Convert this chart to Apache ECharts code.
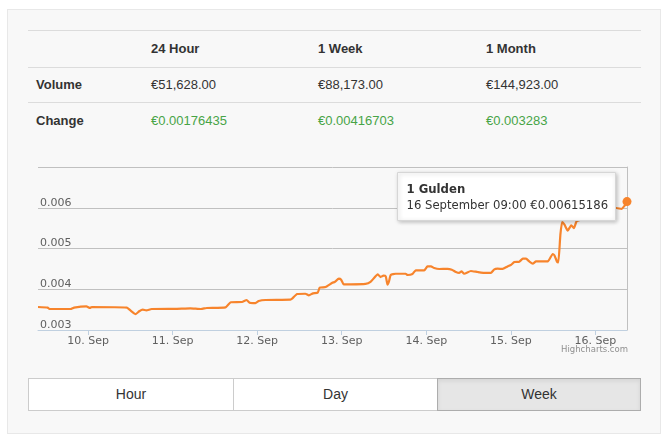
<!DOCTYPE html>
<html><head><meta charset="utf-8">
<script src="https://cdn.jsdelivr.net/npm/echarts@6/dist/echarts.min.js"></script>
<style>
html,body{margin:0;padding:0;background:#fff;width:668px;height:440px;overflow:hidden;font-family:"Liberation Sans",Arial,Helvetica,sans-serif;color:#333;}
#panel{position:absolute;left:7px;top:9px;width:654px;height:425px;background:#f8f8f8;border:1px solid #e8e8e8;box-sizing:border-box;}
#chart{position:absolute;left:0;top:0;width:668px;height:440px;}
.hl{position:absolute;left:28px;width:613px;height:1px;background:#dcdcdc;}
.t{position:absolute;font-size:13px;line-height:16px;white-space:nowrap;color:#333;}
.b{font-weight:bold;}
.g{color:#47a447;}
.btn{position:absolute;top:378px;height:33px;box-sizing:border-box;border:1px solid #cccccc;background:#fff;font-size:14px;line-height:31px;text-align:center;color:#333;}
.btn.active{background:#e6e6e6;border-color:#adadad;box-shadow:inset 0 2px 4px rgba(0,0,0,0.08);}
</style>
</head><body>
<div id="panel"></div>
<div id="table"></div>
<div id="buttons"></div>
<div id="chart"></div>
<script>
// ---- table data ----
const periods = ['24 Hour', '1 Week', '1 Month'];
const volumes = ['€51,628.00', '€88,173.00', '€144,923.00'];
const changes = ['€0.00176435', '€0.00416703', '€0.003283'];
const rowLabels = ['Volume', 'Change'];
const buttonLabels = ['Hour', 'Day', 'Week'];
const activeButton = 'Week';

// ---- chart data ----
const seriesName = '1 Gulden';
const times = [
 '2015-09-09 09:45','2015-09-09 12:30','2015-09-09 13:00','2015-09-09 19:00','2015-09-09 20:00','2015-09-09 23:30',
 '2015-09-10 00:30','2015-09-10 01:00','2015-09-10 11:00','2015-09-10 12:00','2015-09-10 13:30','2015-09-10 14:30',
 '2015-09-10 15:30','2015-09-10 16:30','2015-09-10 18:00','2015-09-11 01:00','2015-09-11 05:00','2015-09-11 08:00',
 '2015-09-11 09:40','2015-09-11 15:00','2015-09-11 16:30','2015-09-11 19:40','2015-09-11 21:00','2015-09-11 21:50',
 '2015-09-11 23:30','2015-09-12 00:25','2015-09-12 02:20','2015-09-12 09:25','2015-09-12 10:00','2015-09-12 11:20',
 '2015-09-12 13:40','2015-09-12 14:40','2015-09-12 15:50','2015-09-12 17:10','2015-09-12 17:45','2015-09-12 19:25',
 '2015-09-12 21:20','2015-09-12 22:00','2015-09-12 23:10','2015-09-12 23:50','2015-09-13 00:35','2015-09-13 02:30',
 '2015-09-13 06:45','2015-09-13 08:10','2015-09-13 10:15','2015-09-13 11:00','2015-09-13 11:50','2015-09-13 12:30',
 '2015-09-13 13:00','2015-09-13 13:25','2015-09-13 13:55','2015-09-13 15:20','2015-09-13 18:10','2015-09-13 18:40',
 '2015-09-13 20:05','2015-09-13 21:00','2015-09-13 23:25','2015-09-14 00:20','2015-09-14 01:20','2015-09-14 02:15',
 '2015-09-14 03:40','2015-09-14 06:00','2015-09-14 07:15','2015-09-14 08:25','2015-09-14 09:20','2015-09-14 10:00',
 '2015-09-14 10:45','2015-09-14 12:40','2015-09-14 14:35','2015-09-14 16:55','2015-09-14 18:20','2015-09-14 19:20',
 '2015-09-14 20:15','2015-09-14 21:40','2015-09-14 23:05','2015-09-15 00:05','2015-09-15 01:00','2015-09-15 02:25',
 '2015-09-15 03:25','2015-09-15 04:20','2015-09-15 05:15','2015-09-15 06:15','2015-09-15 07:10','2015-09-15 10:30',
 '2015-09-15 11:55','2015-09-15 12:25','2015-09-15 13:10','2015-09-15 13:30','2015-09-15 14:05','2015-09-15 14:35',
 '2015-09-15 15:15','2015-09-15 16:10','2015-09-15 17:10','2015-09-15 17:55','2015-09-15 18:35','2015-09-15 19:00',
 '2015-09-15 22:50','2015-09-16 03:05','2015-09-16 06:00','2015-09-16 07:25','2015-09-16 08:20','2015-09-16 09:00'
];
const values = [
 0.003565,0.00355,0.003515,0.003515,0.00355,0.00358,
 0.00354,0.003565,0.00355,0.00348,0.00339,0.00346,
 0.0035,0.00348,0.003515,0.00352,0.00353,0.003515,
 0.00354,0.003555,0.00368,0.003687,0.003736,0.00367,
 0.00366,0.00371,0.003736,0.003744,0.003775,0.003883,
 0.00389,0.00385,0.0039,0.003915,0.004038,0.004055,
 0.00416,0.004178,0.004259,0.004234,0.00412,0.00412,
 0.00413,0.00418,0.004364,0.0043,0.004333,0.004315,
 0.004112,0.004193,0.00435,0.00438,0.00438,0.00435,
 0.004374,0.004463,0.004463,0.00456,0.00456,0.00452,
 0.004497,0.0045,0.00448,0.004423,0.0044,0.004438,
 0.00438,0.004448,0.004423,0.0044,0.0044,0.004487,
 0.004504,0.0045,0.00456,0.0046,0.004668,0.004676,
 0.00475,0.00475,0.004683,0.004627,0.004683,0.004683,
 0.004865,0.00483,0.004668,0.00466,0.005339,0.00565,
 0.005584,0.005437,0.00557,0.0055,0.00565,0.00568,
 0.0058,0.00592,0.005994,0.00597,0.00605,0.00615186
];
const yTicks = [0.003, 0.004, 0.005, 0.006, 0.007];
const monthNames = ['January','February','March','April','May','June','July','August','September','October','November','December'];
const monthShort = ['Jan','Feb','Mar','Apr','May','Jun','Jul','Aug','Sep','Oct','Nov','Dec'];

// ---- build HTML table ----
(function(){
  const tbl = document.getElementById('table');
  const lines = [30, 67, 102];
  lines.forEach(y => { const d = document.createElement('div'); d.className = 'hl'; d.style.top = y + 'px'; tbl.appendChild(d); });
  const colX = [151, 318, 486];
  const rowY = [40.5, 77, 113];
  function add(text, x, y, cls){ const d = document.createElement('div'); d.className = 't ' + cls; d.style.left = x + 'px'; d.style.top = y + 'px'; d.textContent = text; tbl.appendChild(d); }
  periods.forEach((p,i) => add(p, colX[i], rowY[0], 'b'));
  add(rowLabels[0], 36, rowY[1], 'b');
  add(rowLabels[1], 36, rowY[2], 'b');
  volumes.forEach((v,i) => add(v, colX[i], rowY[1], ''));
  changes.forEach((v,i) => add(v, colX[i], rowY[2], 'g'));
  const bx = [28, 233, 437, 641];
  const bc = document.getElementById('buttons');
  buttonLabels.forEach((b,i) => {
    const d = document.createElement('div');
    d.className = 'btn' + (b === activeButton ? ' active' : '');
    d.style.left = bx[i] + 'px';
    d.style.width = (bx[i+1] - bx[i] + (i < 2 ? 1 : 0)) + 'px';
    d.textContent = b;
    bc.appendChild(d);
  });
})();

// ---- chart ----
const LINE = '#f7842c';
const lastT = times[times.length - 1];
const lastV = values[values.length - 1];
const lastDate = echarts.time.parse(lastT);
const pad = n => (n < 10 ? '0' : '') + n;
const tipText = lastDate.getDate() + ' ' + monthNames[lastDate.getMonth()] + ' ' + pad(lastDate.getHours()) + ':' + pad(lastDate.getMinutes()) + ' €' + lastV;

const chart = echarts.init(document.getElementById('chart'), null, {renderer: 'canvas'});
chart.setOption({
  animation: false,
  backgroundColor: 'transparent',
  grid: {left: 38, right: 41, top: 167, bottom: 110, containLabel: false},
  xAxis: {
    type: 'time', min: times[0], max: lastT,
    minInterval: 86400000, maxInterval: 86400000,
    axisLine: {show: true, lineStyle: {color: '#c0d0e0', width: 1}},
    axisTick: {show: true, length: 5, lineStyle: {color: '#c0d0e0'}},
    splitLine: {show: false},
    axisLabel: {
      color: '#606060', fontSize: 11, fontFamily: 'DejaVu Sans', margin: 6,
      showMinLabel: false, showMaxLabel: false, hideOverlap: false,
      formatter: function(v){ const d = new Date(v); return d.getDate() + '. ' + monthShort[d.getMonth()]; }
    }
  },
  yAxis: [{
    type: 'value', min: yTicks[0], max: yTicks[yTicks.length-1], interval: yTicks[1] - yTicks[0],
    axisLine: {show: false}, axisTick: {show: false},
    splitLine: {show: true, lineStyle: {color: '#c0c0c0', width: 1}},
    axisLabel: {inside: true, margin: 2, color: '#606060', fontSize: 11, fontFamily: 'DejaVu Sans',
      verticalAlign: 'bottom', lineHeight: 10, showMaxLabel: false,
      formatter: v => v.toFixed(3)}
  }, {
    type: 'value', position: 'right', min: yTicks[0], max: yTicks[yTicks.length-1], interval: yTicks[1] - yTicks[0],
    axisLine: {show: true, lineStyle: {color: '#c0c0c0', width: 1}},
    axisTick: {show: false}, axisLabel: {show: false}, splitLine: {show: false}
  }],
  series: [{
    name: seriesName, type: 'line', yAxisIndex: 0,
    data: times.map((t,i) => [t, values[i]]),
    showSymbol: false, smooth: 0.15,
    lineStyle: {color: LINE, width: 2.2},
    itemStyle: {color: LINE},
    markPoint: {
      symbol: 'circle', symbolSize: 9, label: {show: false},
      itemStyle: {color: LINE},
      data: [{coord: [lastT, lastV]}]
    }
  }],
  graphic: [{
    type: 'group', left: 397, top: 172, z: 100, zlevel: 1,
    children: [
      {type: 'rect', z: 100, zlevel: 1, shape: {x: 0, y: 0, width: 218, height: 48},
       style: {fill: '#ffffff', stroke: '#d6d6d6', lineWidth: 1, shadowBlur: 4, shadowOffsetX: 1, shadowOffsetY: 1, shadowColor: 'rgba(0,0,0,0.22)'}},
      {type: 'text', z: 101, zlevel: 1, x: 9, y: 17, style: {text: seriesName, fontFamily: 'DejaVu Sans', fontSize: 11.7, fontWeight: 'bold', fill: '#333', verticalAlign: 'middle'}},
      {type: 'text', z: 101, zlevel: 1, x: 9, y: 33, style: {text: tipText, fontFamily: 'DejaVu Sans', fontSize: 11.65, fill: '#333', verticalAlign: 'middle'}}
    ]
  }, {
    type: 'text', right: 40, top: 345, z: 100,
    style: {text: 'Highcharts.com', fontFamily: 'DejaVu Sans', fontSize: 8.5, fill: '#909090'}
  }]
});
</script>
</body></html>
